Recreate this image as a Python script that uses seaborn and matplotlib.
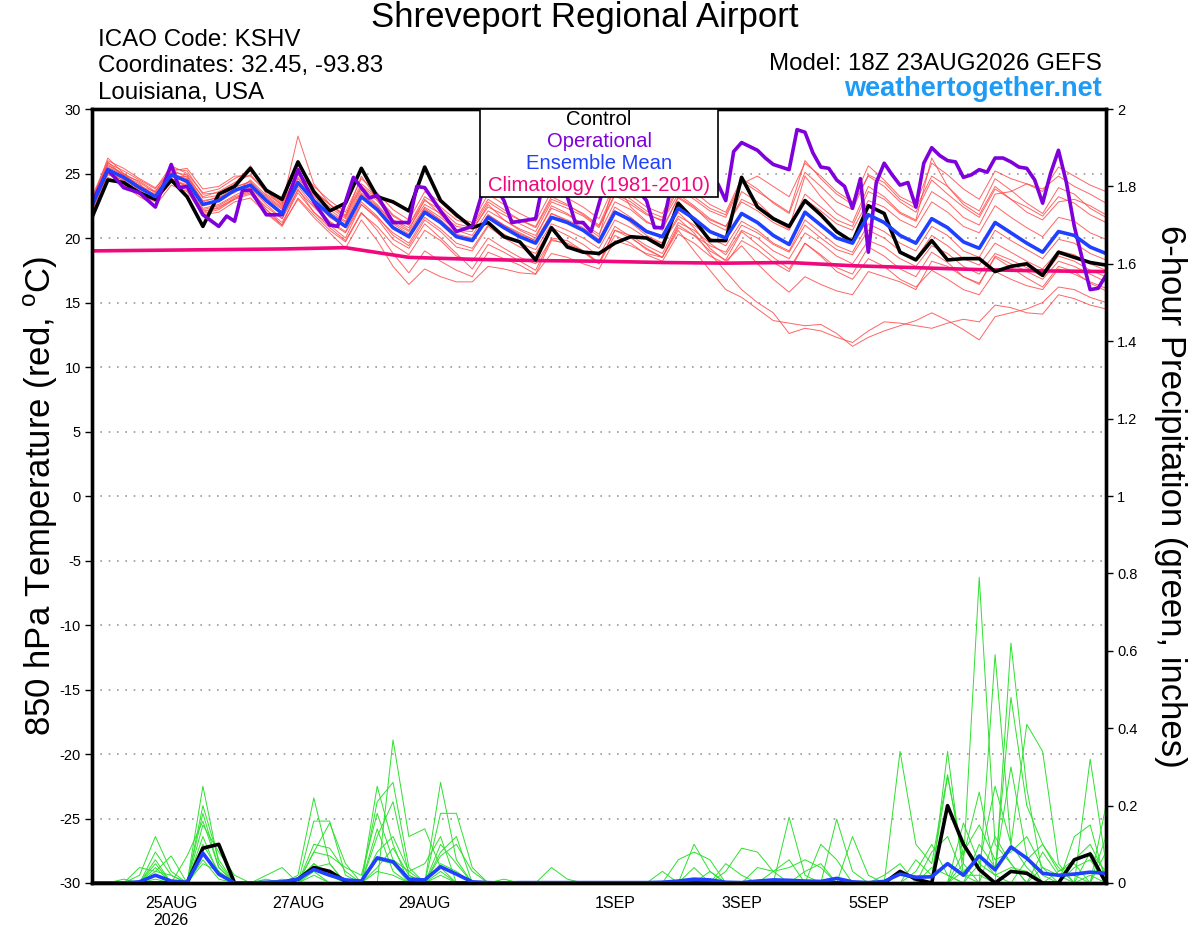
import pandas as pd
import numpy as np
import matplotlib
matplotlib.use("Agg")
import matplotlib.pyplot as plt
from matplotlib.patches import Rectangle
import seaborn as sns

# forecast run and 6-hourly steps
run_start = "2026-08-23 18:00"
n_steps = 65

tick_dates = ["2026-08-25", "2026-08-27", "2026-08-29", "2026-09-01",
              "2026-09-03", "2026-09-05", "2026-09-07"]
tick_labels = ["25AUG\n2026", "27AUG", "29AUG", "1SEP", "3SEP", "5SEP", "7SEP"]

control_temp = [21.6, 24.5, 24.3, 23.5, 23.0, 24.5, 23.2, 20.9, 23.4, 24.0, 25.4, 23.7, 23.0,
                25.9, 23.6, 22.1, 22.7, 25.4, 23.2, 22.8, 22.1, 25.5, 22.9, 21.8, 20.8, 21.2,
                20.1, 19.7, 18.3, 20.8, 19.3, 18.9, 18.8, 19.6, 20.1, 20.0, 19.3, 22.7, 21.4,
                19.8, 19.8, 24.7, 22.4, 21.5, 20.9, 22.9, 21.8, 20.5, 19.7, 22.5, 21.9, 18.9,
                18.3, 19.8, 18.3, 18.4, 18.4, 17.4, 17.8, 18.0, 17.1, 18.9, 18.5, 18.1, 17.9]

mean_temp = [22.5, 25.3, 24.7, 23.9, 23.2, 24.9, 24.4, 22.6, 22.9, 23.7, 24.1, 22.9, 21.9,
             24.3, 22.9, 21.8, 20.9, 23.2, 22.2, 20.8, 20.1, 22.0, 21.2, 20.1, 19.8, 21.6,
             20.8, 20.1, 19.6, 21.6, 21.2, 20.6, 19.7, 22.0, 21.4, 20.5, 20.1, 22.3, 21.5,
             20.5, 20.0, 21.9, 21.2, 20.2, 19.5, 22.0, 21.0, 20.0, 19.6, 21.8, 21.2, 20.2,
             19.6, 21.5, 20.8, 19.7, 19.2, 21.2, 20.4, 19.6, 18.9, 20.5, 20.2, 19.3, 18.8]

# operational run (finer time steps, hours after run start)
op_hours = [0, 6, 12, 18, 24, 30, 33, 36, 42, 48, 51, 54, 57, 60, 66, 72, 78, 84, 90, 93,
            99, 105, 108, 114, 120, 123, 126, 132, 138, 144, 150, 156, 159, 165, 168, 171,
            174, 180, 183, 186, 189, 195, 201, 210, 213, 216, 219, 225, 231, 237, 240, 243,
            246, 252, 255, 258, 264, 267, 270, 273, 276, 279, 282, 285, 288, 291, 294, 297,
            300, 303, 306, 309, 312, 315, 318, 321, 324, 327, 330, 333, 336, 339, 342, 345,
            348, 351, 354, 357, 360, 363, 366, 369, 372, 375, 378, 381, 384]
op_temp = [22.7, 25.3, 23.9, 23.5, 22.4, 25.7, 23.9, 24.0, 21.8, 20.9, 21.7, 21.3, 23.7,
           23.7, 21.8, 21.8, 25.3, 22.8, 21.0, 20.9, 24.7, 23.1, 23.3, 21.2, 21.2, 24.0,
           23.9, 22.1, 20.5, 20.9, 25.0, 22.9, 21.2, 21.4, 21.5, 24.5, 25.3, 23.2, 21.2,
           21.2, 20.5, 24.8, 25.0, 22.9, 20.8, 20.8, 23.7, 25.0, 24.5, 24.2, 22.9, 26.7,
           27.4, 26.8, 26.2, 25.7, 25.3, 28.4, 28.2, 26.6, 25.5, 25.4, 24.5, 24.0, 22.3,
           24.6, 18.9, 24.3, 25.8, 24.9, 24.1, 24.3, 22.4, 25.8, 27.0, 26.4, 26.0, 25.9,
           24.7, 24.9, 25.3, 25.1, 26.2, 26.2, 25.9, 25.5, 25.4, 24.5, 22.7, 25.0, 26.8,
           24.3, 20.9, 18.4, 16.0, 16.1, 17.1]

# climatology, daily
clim_hours = [0, 24, 48, 72, 96, 120, 144, 168, 192, 216, 240, 264, 288, 312, 336, 360, 384]
clim_temp = [19.0, 19.05, 19.1, 19.15, 19.25, 18.5, 18.35, 18.25, 18.2, 18.1, 18.05, 18.1,
             17.85, 17.7, 17.55, 17.45, 17.4]

member_temp = {
    "m01": [23.0, 25.8, 25.2, 24.5, 23.8, 25.6, 25.0, 23.5, 23.8, 24.6, 25.2, 23.8, 22.8, 25.6,
            24.0, 22.9, 22.0, 24.6, 23.5, 22.2, 21.4, 23.6, 22.8, 21.6, 21.2, 23.4, 22.6, 21.9,
            21.3, 23.6, 23.1, 22.4, 21.5, 24.2, 23.3, 22.4, 21.9, 24.5, 23.6, 22.6, 22.0, 24.6,
            23.8, 22.7, 21.9, 25.1, 24.0, 22.8, 22.2, 24.9, 24.3, 23.0, 22.3, 24.8, 24.0, 22.8,
            22.1, 24.6, 23.7, 22.7, 21.9, 23.9, 23.4, 22.3, 21.6],
    "m02": [22.0, 24.7, 24.1, 23.2, 22.5, 24.1, 23.6, 21.8, 22.0, 22.8, 23.1, 21.9, 20.9, 23.1,
            21.8, 20.6, 19.7, 21.9, 20.9, 19.5, 18.7, 20.6, 19.8, 18.6, 18.2, 20.0, 19.2, 18.5,
            18.0, 19.9, 19.5, 18.9, 18.0, 20.2, 19.6, 18.7, 18.2, 20.3, 19.6, 18.6, 18.0, 19.8,
            19.1, 18.1, 17.4, 19.6, 18.7, 17.7, 17.2, 19.3, 18.6, 17.6, 17.0, 18.9, 18.1, 17.0,
            16.5, 18.5, 17.7, 16.9, 16.2, 17.8, 17.4, 16.5, 15.9],
    "m03": [22.3, 25.1, 24.4, 23.6, 23.0, 24.6, 24.1, 22.3, 22.6, 23.3, 23.9, 22.6, 21.5, 24.0,
            22.5, 21.3, 20.5, 22.8, 21.7, 20.2, 19.4, 21.4, 20.5, 19.3, 19.0, 20.9, 20.0, 19.3,
            18.8, 20.8, 20.2, 19.5, 18.6, 20.9, 20.1, 19.1, 18.5, 20.6, 19.0, 17.5, 16.0, 15.4,
            14.5, 13.6, 13.4, 13.2, 13.3, 12.6, 11.6, 12.3, 12.8, 13.2, 13.6, 14.2, 13.6, 12.9,
            12.1, 13.9, 14.2, 14.5, 15.0, 16.2, 16.0, 15.4, 15.0],
    "m04": [22.6, 25.5, 24.9, 24.0, 23.4, 25.0, 24.6, 22.9, 23.1, 23.9, 24.4, 23.1, 22.2, 24.6,
            23.2, 22.0, 21.2, 23.5, 22.5, 21.1, 20.3, 22.3, 21.4, 20.3, 20.0, 21.8, 21.0, 20.3,
            19.8, 21.9, 21.3, 20.6, 19.8, 22.1, 21.2, 20.2, 19.6, 21.5, 20.4, 18.8, 17.4, 16.0,
            15.0, 14.2, 12.6, 13.0, 12.8, 12.3, 11.9, 12.8, 13.5, 13.4, 13.2, 13.0, 13.4, 13.7,
            13.5, 14.8, 14.6, 14.2, 14.1, 15.6, 15.3, 14.8, 14.5],
    "m05": [22.8, 25.9, 24.8, 24.2, 23.0, 24.5, 24.0, 22.0, 22.4, 23.0, 23.8, 22.2, 21.0, 23.8,
            22.0, 21.0, 20.0, 22.6, 21.5, 19.9, 19.2, 21.1, 20.0, 18.8, 17.6, 19.5, 18.9, 18.2,
            17.5, 20.0, 19.8, 19.0, 18.1, 20.6, 20.0, 19.2, 18.5, 21.0, 20.2, 19.0, 18.3, 20.5,
            19.5, 18.5, 17.6, 19.6, 18.6, 17.4, 16.8, 18.4, 17.8, 16.8, 16.2, 17.5, 16.8, 16.0,
            15.6, 17.4, 16.8, 16.3, 16.0, 17.6, 17.2, 16.6, 16.1],
    "m06": [22.9, 26.2, 25.0, 24.0, 23.6, 25.4, 25.2, 23.4, 23.5, 24.2, 25.6, 23.4, 22.6, 27.9,
            24.2, 22.6, 21.6, 24.8, 23.0, 21.4, 20.6, 23.0, 21.8, 20.6, 20.5, 22.6, 21.4, 20.6,
            20.0, 22.5, 21.9, 21.0, 20.1, 24.5, 22.4, 21.3, 20.6, 23.2, 22.4, 21.2, 20.6, 23.6,
            22.8, 21.6, 20.8, 24.8, 23.2, 21.9, 21.2, 24.0, 23.2, 22.0, 21.4, 26.2, 24.0, 22.6,
            21.8, 24.0, 23.0, 22.0, 21.4, 22.8, 23.0, 22.5, 21.8],
    "m07": [22.4, 25.4, 24.6, 24.1, 23.3, 24.7, 24.8, 22.8, 23.2, 23.5, 24.5, 23.3, 22.4, 24.9,
            23.4, 22.4, 21.5, 23.9, 22.9, 21.4, 20.8, 22.6, 21.9, 20.9, 20.7, 22.4, 21.8, 21.1,
            20.5, 22.8, 22.3, 21.7, 20.8, 23.3, 22.6, 21.8, 21.4, 23.8, 23.0, 22.1, 21.6, 24.2,
            24.8, 24.0, 23.2, 25.8, 24.8, 23.6, 22.8, 25.6, 24.5, 23.2, 22.6, 25.8, 24.9, 23.8,
            23.0, 25.2, 24.6, 24.2, 23.6, 25.5, 24.8, 24.1, 23.6],
    "m08": [22.2, 24.9, 24.5, 23.5, 23.0, 24.3, 23.9, 22.2, 22.5, 23.2, 23.6, 22.4, 21.5, 23.7,
            22.4, 21.2, 20.4, 22.6, 21.6, 20.4, 19.6, 21.6, 20.7, 19.6, 19.2, 21.0, 20.3, 19.6,
            19.1, 21.1, 20.6, 20.0, 19.2, 21.4, 20.8, 20.0, 19.6, 21.7, 21.0, 20.0, 19.4, 21.3,
            20.6, 19.6, 19.0, 21.4, 20.4, 19.4, 18.9, 21.1, 20.5, 19.6, 19.0, 20.9, 20.2, 19.0,
            18.5, 20.6, 19.8, 19.1, 18.4, 19.9, 19.6, 18.8, 18.3],
    "m09": [22.1, 25.0, 24.2, 23.4, 22.8, 24.4, 23.7, 21.9, 22.2, 23.0, 23.4, 22.0, 21.0, 23.0,
            21.6, 20.4, 19.2, 21.4, 19.8, 17.8, 16.4, 17.6, 17.0, 16.6, 16.6, 17.8, 17.6, 17.3,
            17.2, 18.8, 18.5, 18.0, 17.6, 19.8, 19.4, 18.8, 18.5, 20.8, 20.2, 19.4, 18.9, 21.0,
            20.4, 19.5, 18.9, 21.0, 20.0, 19.1, 18.7, 20.6, 20.0, 19.0, 18.4, 20.2, 19.4, 18.4,
            17.9, 19.6, 18.9, 18.2, 17.6, 19.0, 18.7, 18.0, 17.5],
    "m10": [23.2, 26.0, 25.4, 24.6, 23.9, 25.2, 25.4, 23.8, 24.0, 24.8, 24.8, 23.6, 22.5, 25.2,
            23.6, 22.6, 21.8, 24.2, 23.2, 21.8, 21.0, 23.2, 22.4, 21.4, 21.0, 23.0, 22.2, 21.4,
            20.9, 23.2, 22.6, 21.8, 20.9, 23.4, 22.8, 21.9, 21.3, 23.4, 22.5, 21.5, 20.9, 22.8,
            22.1, 21.2, 20.6, 23.0, 22.1, 21.1, 20.6, 22.9, 22.4, 21.4, 20.8, 22.8, 22.0, 20.9,
            20.4, 22.5, 21.6, 20.8, 20.1, 21.6, 21.3, 20.4, 19.9],
    "m11": [22.5, 25.2, 24.8, 23.8, 23.2, 25.0, 24.2, 22.5, 23.0, 23.6, 24.0, 22.8, 21.8, 24.4,
            23.0, 21.6, 20.8, 23.4, 22.4, 20.9, 20.2, 22.2, 21.4, 20.2, 19.9, 21.8, 21.0, 20.4,
            19.8, 21.9, 21.4, 20.8, 19.9, 22.4, 21.6, 20.6, 20.0, 22.0, 20.8, 19.2, 18.2, 19.4,
            18.0, 16.8, 15.8, 17.0, 16.4, 15.9, 15.6, 17.4, 17.0, 16.6, 16.0, 18.2, 17.8, 17.0,
            16.4, 18.6, 18.0, 17.4, 16.8, 18.2, 17.8, 17.2, 16.6],
    "m12": [22.7, 25.6, 25.0, 24.3, 23.5, 25.1, 24.9, 23.1, 23.3, 24.0, 24.3, 23.2, 22.3, 24.7,
            23.3, 22.2, 21.3, 23.7, 22.6, 21.2, 20.5, 22.4, 21.6, 20.6, 20.2, 22.1, 21.4, 20.7,
            20.2, 22.3, 21.8, 21.1, 20.3, 22.8, 22.2, 21.2, 20.8, 23.1, 22.3, 21.4, 20.9, 23.0,
            22.4, 21.4, 20.7, 23.4, 22.4, 21.4, 20.9, 23.6, 23.0, 21.9, 21.3, 23.6, 22.8, 21.6,
            21.0, 23.4, 23.6, 24.2, 23.8, 24.8, 24.0, 23.4, 22.7],
    "m13": [22.4, 25.0, 24.6, 23.7, 22.9, 24.6, 24.0, 22.1, 22.3, 23.1, 23.5, 22.2, 21.2, 23.5,
            22.0, 20.8, 19.8, 22.0, 20.6, 18.8, 17.3, 19.0, 18.2, 17.5, 17.0, 18.9, 18.4, 17.9,
            17.2, 19.8, 19.6, 19.0, 18.0, 20.6, 20.2, 19.4, 18.8, 21.2, 20.6, 19.6, 18.7, 20.6,
            20.0, 19.0, 18.4, 20.4, 19.6, 18.6, 18.0, 19.8, 19.3, 18.4, 17.8, 19.4, 18.8, 17.8,
            17.2, 18.8, 18.3, 17.7, 17.0, 18.6, 18.2, 17.5, 17.0],
    "m14": [22.9, 25.7, 24.9, 24.4, 23.6, 25.3, 24.7, 23.2, 23.6, 24.3, 24.9, 23.6, 22.7, 25.0,
            23.7, 22.6, 21.7, 24.0, 23.1, 21.7, 21.0, 22.9, 22.2, 21.1, 20.8, 22.8, 22.0, 21.4,
            20.8, 23.0, 22.5, 21.9, 21.0, 23.8, 23.0, 22.1, 21.6, 24.0, 23.2, 22.3, 21.8, 24.4,
            23.6, 22.8, 22.0, 26.0, 24.6, 23.4, 22.6, 24.8, 24.0, 22.8, 22.0, 24.5, 23.4, 22.4,
            21.6, 23.8, 23.0, 22.4, 21.7, 23.2, 22.7, 21.8, 21.2],
}

control_precip = [0, 0, 0, 0, 0, 0, 0, 0.09, 0.10, 0, 0, 0, 0, 0.01, 0.04, 0.03, 0.005,
                  0, 0, 0, 0, 0, 0, 0, 0, 0, 0, 0, 0, 0, 0, 0, 0, 0, 0, 0, 0, 0, 0, 0, 0,
                  0, 0, 0, 0, 0, 0, 0, 0, 0, 0, 0.03, 0.01, 0, 0.20, 0.10, 0.035, 0, 0.03,
                  0.025, 0, 0, 0.06, 0.075, 0]

mean_precip = [0, 0, 0, 0.003, 0.02, 0.005, 0.002, 0.077, 0.023, 0, 0, 0.002, 0.003, 0.01,
               0.035, 0.02, 0.008, 0.005, 0.065, 0.055, 0.01, 0.008, 0.042, 0.023, 0.003,
               0.001, 0, 0.001, 0.001, 0.001, 0.001, 0.001, 0.001, 0.001, 0.001, 0.001, 0.002,
               0.005, 0.01, 0.008, 0.002, 0.001, 0.005, 0.008, 0.007, 0.005, 0.004, 0.012,
               0.003, 0.001, 0.004, 0.023, 0.015, 0.016, 0.05, 0.02, 0.07, 0.034, 0.093,
               0.064, 0.025, 0.02, 0.023, 0.028, 0.025]

# ensemble precip members, nonzero 6-h totals by step index
member_precip = {
    "p01": {3: 0.02, 4: 0.12, 5: 0.03, 7: 0.25, 8: 0.05, 14: 0.05, 15: 0.02, 18: 0.25,
            19: 0.10, 22: 0.26, 23: 0.06, 39: 0.03, 44: 0.17, 45: 0.02, 55: 0.05, 56: 0.79,
            57: 0.10, 58: 0.05, 60: 0.08, 61: 0.02},
    "p02": {4: 0.08, 5: 0.02, 7: 0.20, 8: 0.06, 13: 0.02, 14: 0.22, 15: 0.05, 19: 0.37,
            20: 0.12, 21: 0.14, 22: 0.04, 38: 0.10, 39: 0.03, 51: 0.34, 52: 0.10, 53: 0.05,
            54: 0.28, 55: 0.05, 57: 0.59, 58: 0.10, 59: 0.41, 60: 0.34, 61: 0.05, 63: 0.32,
            64: 0.05},
    "p03": {4: 0.06, 6: 0.07, 7: 0.16, 8: 0.04, 14: 0.08, 15: 0.155, 16: 0.05, 18: 0.21,
            19: 0.26, 20: 0.04, 22: 0.18, 23: 0.18, 24: 0.04, 40: 0.05, 41: 0.02, 47: 0.165,
            48: 0.03, 54: 0.34, 55: 0.02, 56: 0.02, 58: 0.62, 59: 0.245, 60: 0.02, 64: 0.20},
    "p04": {4: 0.05, 7: 0.15, 8: 0.08, 9: 0.02, 11: 0.01, 14: 0.16, 15: 0.16, 16: 0.02,
            18: 0.12, 19: 0.21, 20: 0.02, 22: 0.10, 23: 0.05, 37: 0.06, 38: 0.08, 39: 0.06,
            45: 0.03, 46: 0.05, 52: 0.06, 53: 0.02, 54: 0.275, 55: 0.07, 56: 0.235, 57: 0.03,
            58: 0.48, 59: 0.20, 60: 0.10, 61: 0.03, 62: 0.06, 63: 0.10, 64: 0.02},
    "p05": {3: 0.04, 4: 0.03, 5: 0.07, 7: 0.12, 8: 0.02, 12: 0.01, 14: 0.08, 15: 0.07,
            16: 0.04, 17: 0.02, 18: 0.18, 19: 0.06, 20: 0.03, 22: 0.08, 23: 0.12, 36: 0.03,
            38: 0.04, 42: 0.04, 43: 0.03, 44: 0.06, 55: 0.155, 56: 0.05, 57: 0.25, 58: 0.10,
            59: 0.04, 62: 0.12, 63: 0.15},
    "p06": {4: 0.02, 7: 0.10, 8: 0.03, 14: 0.04, 15: 0.05, 18: 0.08, 19: 0.12, 20: 0.03,
            21: 0.05, 22: 0.12, 26: 0.01, 29: 0.04, 30: 0.01, 40: 0.03, 41: 0.09, 42: 0.08,
            43: 0.03, 50: 0.02, 51: 0.05, 53: 0.04, 54: 0.02, 56: 0.10, 57: 0.04, 58: 0.30,
            59: 0.07, 61: 0.03, 62: 0.05, 64: 0.12},
    "p07": {2: 0.01, 4: 0.04, 7: 0.08, 8: 0.02, 13: 0.01, 14: 0.05, 15: 0.02, 18: 0.06,
            19: 0.05, 22: 0.05, 23: 0.03, 43: 0.03, 44: 0.04, 45: 0.06, 46: 0.04, 48: 0.12,
            49: 0.02, 55: 0.03, 56: 0.07, 57: 0.02, 59: 0.06, 60: 0.10, 61: 0.04, 63: 0.08,
            64: 0.03},
    "p08": {4: 0.03, 5: 0.02, 7: 0.06, 8: 0.01, 11: 0.02, 12: 0.04, 14: 0.02, 18: 0.14,
            19: 0.03, 22: 0.03, 46: 0.10, 47: 0.06, 53: 0.08, 54: 0.12, 55: 0.02, 57: 0.12,
            58: 0.05, 60: 0.04, 61: 0.02, 62: 0.02, 64: 0.08},
    "p09": {7: 0.18, 8: 0.04, 14: 0.10, 15: 0.09, 16: 0.03, 18: 0.04, 19: 0.09, 20: 0.02,
            22: 0.07, 23: 0.10, 24: 0.03, 55: 0.08, 56: 0.15, 57: 0.06, 58: 0.08, 59: 0.12,
            60: 0.04, 62: 0.04, 63: 0.06},
    "p10": {4: 0.01, 7: 0.05, 8: 0.03, 14: 0.03, 18: 0.03, 19: 0.02, 22: 0.02, 52: 0.03,
            53: 0.10, 54: 0.02, 56: 0.05, 57: 0.02, 58: 0.04, 59: 0.03, 63: 0.02},
}

# ---- tables ----
t0 = pd.Timestamp(run_start)
times = pd.date_range(run_start, periods=n_steps, freq="6h")
assert len(control_temp) == n_steps and len(mean_temp) == n_steps
assert len(control_precip) == n_steps and len(mean_precip) == n_steps
assert len(op_hours) == len(op_temp)

rows = []
for name, vals in member_temp.items():
    assert len(vals) == n_steps, name
    for t, v in zip(times, vals):
        rows.append((name, t, v))
df_mem_t = pd.DataFrame(rows, columns=["member", "time", "temp"])

rows = []
for name, d in member_precip.items():
    for i, t in enumerate(times):
        rows.append((name, t, d.get(i, 0.0)))
df_mem_p = pd.DataFrame(rows, columns=["member", "time", "precip"])

df_main = pd.DataFrame({"time": times, "control_t": control_temp, "mean_t": mean_temp,
                        "control_p": control_precip, "mean_p": mean_precip})
df_op = pd.DataFrame({"time": t0 + pd.to_timedelta(op_hours, unit="h"), "temp": op_temp})
df_clim = pd.DataFrame({"time": t0 + pd.to_timedelta(clim_hours, unit="h"), "temp": clim_temp})

# ---- style ----
sns.set_theme(style="white")
plt.rcParams["font.family"] = ["Liberation Sans", "DejaVu Sans"]
plt.rcParams["axes.unicode_minus"] = False
for key in ("text.color", "axes.labelcolor", "xtick.color", "ytick.color"):
    plt.rcParams[key] = "black"

RED = "#ff4a4a"
GREEN = "#2ee02e"
PURPLE = "#8000dc"
BLUE = "#2040ff"
PINK = "#f0087c"

fig = plt.figure(figsize=(12, 9.27), dpi=100)
ax = fig.add_axes([92 / 1200, 1 - 883 / 927, 1014 / 1200, 774 / 927])
ax2 = ax.twinx()

# temperature
sns.lineplot(data=df_mem_t, x="time", y="temp", units="member", estimator=None,
             color=RED, lw=0.7, alpha=0.85, ax=ax, legend=False)
sns.lineplot(data=df_clim, x="time", y="temp", color=PINK, lw=2.6, ax=ax)
sns.lineplot(data=df_main, x="time", y="control_t", color="black", lw=2.6, ax=ax)
sns.lineplot(data=df_op, x="time", y="temp", color=PURPLE, lw=2.6, ax=ax)
sns.lineplot(data=df_main, x="time", y="mean_t", color=BLUE, lw=2.6, ax=ax)

# precipitation
sns.lineplot(data=df_mem_p, x="time", y="precip", units="member", estimator=None,
             color=GREEN, lw=0.7, ax=ax2, legend=False)
sns.lineplot(data=df_main, x="time", y="control_p", color="black", lw=2.6, ax=ax2)
sns.lineplot(data=df_main, x="time", y="mean_p", color=BLUE, lw=2.6, ax=ax2)

ax.set_xlim(times[0], times[-1])
ax.set_ylim(-30, 30)
ax2.set_ylim(0, 2)
ax.set_yticks(np.arange(-30, 31, 5))
ax2.set_yticks(np.arange(0, 2.01, 0.2))
ax2.yaxis.set_major_formatter(plt.FuncFormatter(lambda v, p: f"{v:g}"))
ax.set_xticks(pd.to_datetime(tick_dates))
ax.set_xticklabels(tick_labels)

ax.yaxis.grid(True, linestyle=(0, (1, 4)), color="#9a9a9a", lw=1.2)
ax.set_axisbelow(True)
ax.xaxis.grid(False)

for a in (ax, ax2):
    for sp in a.spines.values():
        sp.set_linewidth(2.4)
        sp.set_color("black")
ax.tick_params(axis="both", direction="out", length=5, width=1, labelsize=10.5, pad=3)
ax.tick_params(axis="x", labelsize=11.5, pad=4)
ax2.tick_params(axis="y", direction="out", length=5, width=1, labelsize=10.5, pad=3)

ax.set_xlabel("")
ax.set_ylabel("850 hPa Temperature (red, $^\\mathregular{o}$C)", fontsize=25, labelpad=0)
ax2.set_ylabel("6-hour Precipitation (green, inches)", fontsize=25, rotation=-90,
               labelpad=36)

# legend box
ax2.add_patch(Rectangle((0.3826, 0.886), 0.2348, 0.114, transform=ax2.transAxes,
                        facecolor="white", edgecolor="black", lw=1.2, zorder=10,
                        clip_on=False))
legend_items = [("Control", "black"), ("Operational", PURPLE),
                ("Ensemble Mean", BLUE), ("Climatology (1981-2010)", PINK)]
for k, (txt, col) in enumerate(legend_items):
    ax2.text(0.5, 0.9858 - k * 0.0282, txt, color=col, fontsize=14.6, ha="center",
             va="center", transform=ax2.transAxes, zorder=11)

# header
fig.text(585 / 1200, 1 - 18 / 927, "Shreveport Regional Airport", fontsize=25,
         ha="center", va="center")
fig.text(98 / 1200, 1 - 40 / 927, "ICAO Code: KSHV", fontsize=17.4, va="center")
fig.text(98 / 1200, 1 - 66 / 927, "Coordinates: 32.45, -93.83", fontsize=17.4, va="center")
fig.text(98 / 1200, 1 - 93 / 927, "Louisiana, USA", fontsize=17.4, va="center")
fig.text(1102 / 1200, 1 - 64 / 927, "Model: 18Z 23AUG2026 GEFS", fontsize=17.4,
         ha="right", va="center")
fig.text(1102 / 1200, 1 - 89 / 927, "weathertogether.net", fontsize=19.5, fontweight="bold",
         color="#1e9cf5", ha="right", va="center")

fig.savefig("out.png", dpi=100)
